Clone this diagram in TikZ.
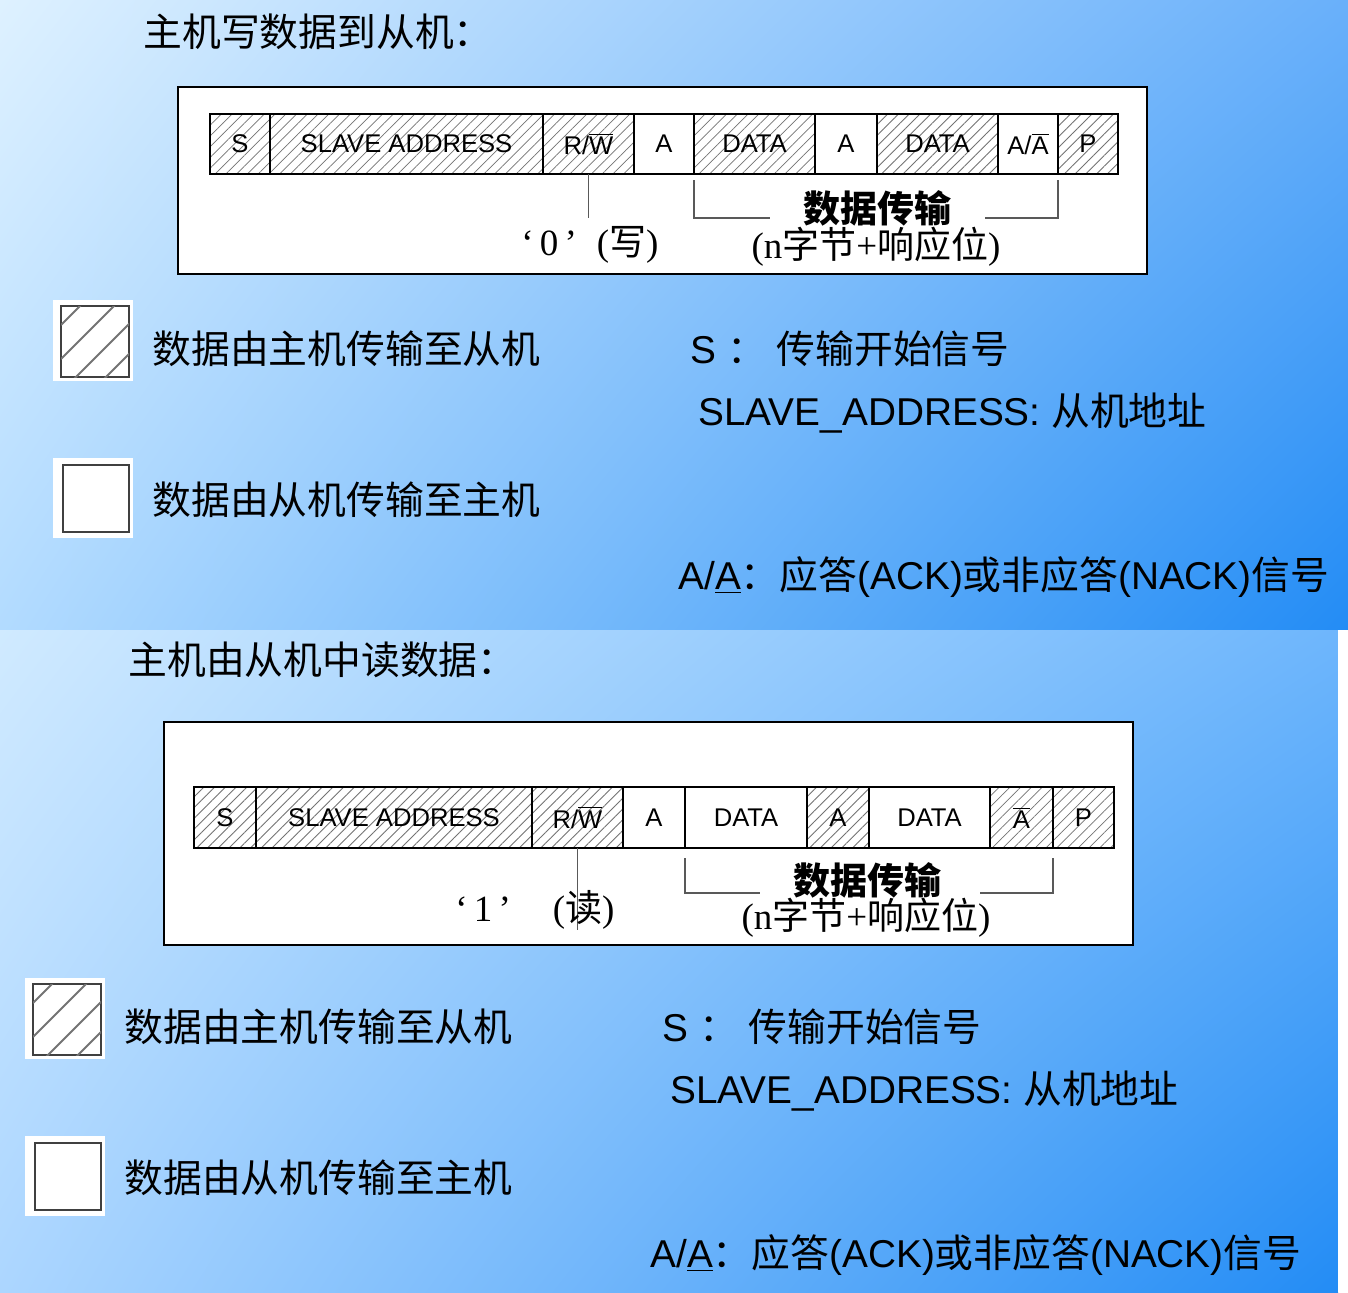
\documentclass[tikz,border=0pt]{standalone}
\usepackage{fontspec}
\setmainfont{Liberation Sans}
\newfontfamily\cjk{Noto Sans CJK SC}
\newfontfamily\songti{Liberation Serif}
\usetikzlibrary{positioning,patterns.meta,shadings}
\definecolor{bgTL}{RGB}{222,241,255}
\definecolor{bgTR}{RGB}{105,176,250}
\definecolor{bgBL}{RGB}{178,219,255}
\definecolor{bgBR}{RGB}{35,140,245}
\definecolor{bgTLb}{RGB}{208,234,255}
\definecolor{bgTRb}{RGB}{110,182,252}
\definecolor{bgBLb}{RGB}{172,214,255}

\begin{document}
\begin{tikzpicture}[x=0.5pt,y=-0.5pt,
    cell/.style={draw,line width=0.8pt,minimum height=30pt,inner sep=0pt,outer sep=0pt,
                 font=\fontsize{12.8}{14}\selectfont},
    hatch/.style={cell,pattern={Lines[angle=45,distance=3.8pt,line width=0.4pt]},pattern color=black!55},
    heading/.style={anchor=west,inner sep=0pt,font=\cjk\fontsize{19.4}{23}\selectfont},
    legtext/.style={anchor=west,inner sep=0pt,font=\fontsize{19.4}{23}\selectfont},
    frametext/.style={inner sep=0pt,font=\songti\fontsize{18.5}{21}\selectfont},
    bracket/.style={draw=black!65,line width=0.8pt}]

% background panels
\useasboundingbox (0,0) rectangle (1348,1292);
\shade[upper left=bgTL,upper right=bgTR,lower left=bgBL,lower right=bgBR] (0,0) rectangle (1348,630);
\shade[upper left=bgTLb,upper right=bgTRb,lower left=bgBLb,lower right=bgBR] (0,630) rectangle (1338,1292);
\fill[white] (1338,630) rectangle (1348,1292);

% master writes
\node[heading] (t-title) at (143,32) {主机写数据到从机：};
\draw[fill=white,line width=1.1pt] (178,87) rectangle (1147,274);

\node[hatch,minimum width=30pt,anchor=west] (ts) at (210,144) {S};
\node[hatch,minimum width=136.5pt,right=0pt of ts] (tsa) {SLAVE ADDRESS};
\node[hatch,minimum width=45.5pt,right=0pt of tsa] (trw) {R/$\overline{\hbox{W}}$};
\node[cell,minimum width=30pt,right=0pt of trw] (ta1) {A};
\node[hatch,minimum width=60.5pt,right=0pt of ta1] (td1) {DATA};
\node[cell,minimum width=31pt,right=0pt of td1] (ta2) {A};
\node[hatch,minimum width=60.5pt,right=0pt of ta2] (td2) {DATA};
\node[cell,minimum width=30pt,right=0pt of td2] (taa) {A/$\overline{\hbox{A}}$};
\node[hatch,minimum width=30pt,right=0pt of taa] (tp) {P};

\coordinate (t-zero) at (588.5,218);
\draw[bracket] (trw.south) -- (t-zero);
\node[frametext,anchor=west] (t-rw) at (521,245) {‘\,0\,’\hspace{10pt}({\cjk 写})};

\coordinate (t-bl) at (770,218);
\coordinate (t-br) at (985,218);
\draw[bracket] ([yshift=-3pt]td1.south west) |- (t-bl);
\draw[bracket] ([yshift=-3pt]tp.south west) |- (t-br);
\node[frametext,font=\cjk\bfseries\fontsize{18.5}{21}\selectfont] (t-dt) at (877,208) {数据传输};
\node[frametext] (t-nb) at (876,247) {(n{\cjk 字节}+{\cjk 响应位})};

% master reads
\node[heading] (b-title) at (128,660) {主机由从机中读数据：};
\draw[fill=white,line width=1.1pt] (164,722) rectangle (1133,945);

\node[hatch,minimum width=31pt,minimum height=30.5pt,anchor=west] (bs) at (194,817.5) {S};
\node[hatch,minimum width=138pt,minimum height=30.5pt,right=0pt of bs] (bsa) {SLAVE ADDRESS};
\node[hatch,minimum width=45.5pt,minimum height=30.5pt,right=0pt of bsa] (brw) {R/$\overline{\hbox{W}}$};
\node[cell,minimum width=31pt,minimum height=30.5pt,right=0pt of brw] (ba1) {A};
\node[cell,minimum width=61pt,minimum height=30.5pt,right=0pt of ba1] (bd1) {DATA};
\node[hatch,minimum width=31pt,minimum height=30.5pt,right=0pt of bd1] (ba2) {A};
\node[cell,minimum width=60.5pt,minimum height=30.5pt,right=0pt of ba2] (bd2) {DATA};
\node[hatch,minimum width=31.5pt,minimum height=30.5pt,right=0pt of bd2] (bna) {$\overline{\hbox{A}}$};
\node[hatch,minimum width=30.5pt,minimum height=30.5pt,right=0pt of bna] (bp) {P};

\coordinate (b-one) at (577.5,930);
\draw[bracket] (brw.south) -- (b-one);
\node[frametext,anchor=west] (b-rw) at (455,910) {‘\,1\,’\hspace{21pt}({\cjk 读})};

\coordinate (b-bl) at (760,893);
\coordinate (b-br) at (980,893);
\draw[bracket] ([yshift=-5pt]bd1.south west) |- (b-bl);
\draw[bracket] ([yshift=-5pt]bp.south west) |- (b-br);
\node[frametext,font=\cjk\bfseries\fontsize{18.5}{21}\selectfont] (b-dt) at (867,880) {数据传输};
\node[frametext] (b-nb) at (866,918) {(n{\cjk 字节}+{\cjk 响应位})};

% legends (same in both panels)
\foreach \dx/\dy/\p in {0/0/t,-28/678/b}{
  \begin{scope}[shift={(\dx,\dy)}]
    \fill[white] (53,300) rectangle (133,381);
    \draw[line width=1.4pt,black!75] (61,306) rectangle (129,377);
    \begin{scope}
      \clip (61,306) rectangle (129,377);
      \foreach \c in {52,18,-15,-45}
        \draw[black!55,line width=1pt] (61,377-\c) -- ++(80,-80);
    \end{scope}
    \fill[white] (53,458) rectangle (133,538);
    \draw[line width=1.4pt,black!75] (63,465) rectangle (129,532);
    \node[legtext,font=\cjk\fontsize{19.4}{23}\selectfont] (\p-m2s) at (152,349) {数据由主机传输至从机};
    \node[legtext,font=\cjk\fontsize{19.4}{23}\selectfont] (\p-s2m) at (152,500) {数据由从机传输至主机};
    \node[legtext] (\p-s) at (690,349) {S {\cjk ：}\ {\cjk 传输开始信号}};
    \node[legtext] (\p-sa) at (698,413) {SLAVE\_ADDRESS: {\cjk 从机地址}};
    \node[legtext] (\p-ack) at (678,577) {A/\underline{A}{\cjk ：应答}(ACK){\cjk 或非应答}(NACK){\cjk 信号}};
  \end{scope}
}

\end{tikzpicture}
\end{document}
